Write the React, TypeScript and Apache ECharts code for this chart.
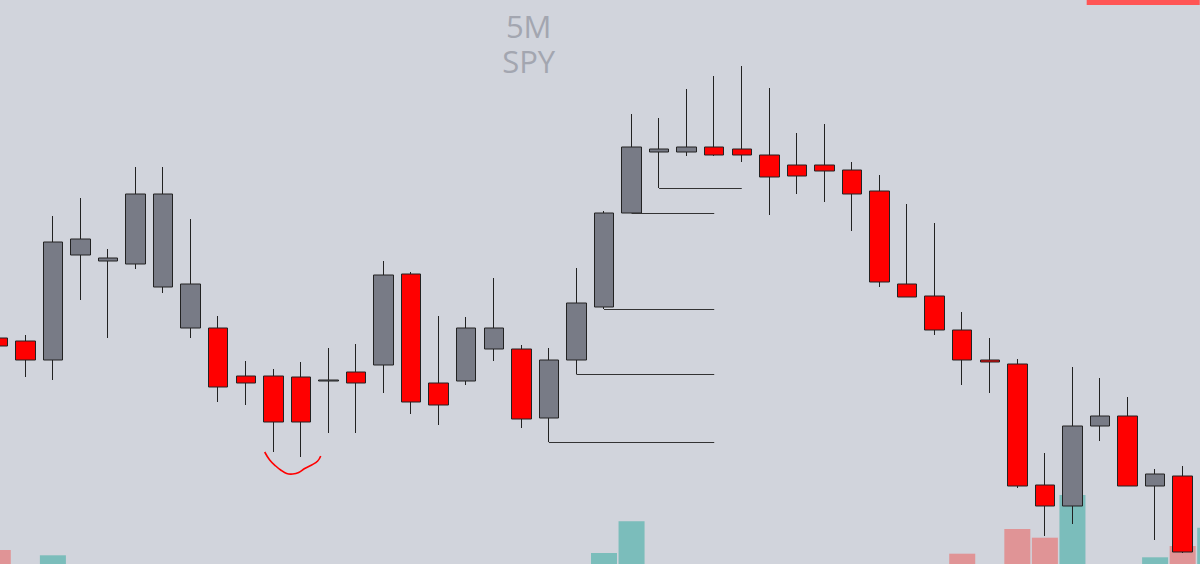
import React, { useEffect, useRef } from "react";
import * as echarts from "echarts";

const categories = [
  "12:25", "12:30", "12:35", "12:40", "12:45", "12:50", "12:55", "13:00", "13:05", "13:10",
  "13:15", "13:20", "13:25", "13:30", "13:35", "13:40", "13:45", "13:50", "13:55", "14:00",
  "14:05", "14:10", "14:15", "14:20", "14:25", "14:30", "14:35", "14:40", "14:45", "14:50",
  "14:55", "15:00", "15:05", "15:10", "15:15", "15:20", "15:25", "15:30", "15:35", "15:40",
  "15:45", "15:50", "15:55", "16:00", "16:05",
];

const opens = [
  408.62, 408.59, 408.4, 409.45, 409.39, 409.36, 409.13, 408.72, 408.72, 408.24,
  408.24, 408.23, 408.19, 408.28, 408.35, 409.26, 408.17, 408.19, 408.51, 408.51,
  407.82, 408.4, 408.93, 409.87, 410.48, 410.48, 410.53, 410.51, 410.45, 410.35,
  410.35, 410.3, 410.09, 409.16, 409.04, 408.7, 408.4, 408.36, 407.15, 406.94,
  407.74, 407.84, 407.14, 407.24, 406.48,
];
const closes = [
  408.54, 408.4, 409.58, 409.61, 409.42, 410.06, 410.06, 409.16, 408.13, 408.17,
  407.78, 407.78, 408.2, 408.17, 409.25, 407.98, 407.95, 408.72, 408.72, 407.81,
  408.4, 408.97, 409.87, 410.53, 410.51, 410.53, 410.45, 410.45, 410.23, 410.24,
  410.29, 410.06, 409.18, 409.03, 408.7, 408.4, 408.38, 407.14, 406.94, 407.74,
  407.84, 407.14, 407.26, 406.48, 407.3,
];
const lows = [
  408.48, 408.23, 408.2, 409.0, 408.62, 409.31, 409.07, 408.62, 407.98, 407.95,
  407.48, 407.43, 407.67, 407.67, 408.07, 407.86, 407.75, 408.15, 408.39, 407.72,
  407.58, 408.26, 408.91, 409.87, 410.12, 410.44, 410.44, 410.38, 409.85, 410.06,
  409.98, 409.69, 409.13, 409.03, 408.65, 408.15, 408.07, 407.12, 406.64, 406.76,
  407.59, 407.14, 406.6, 406.47, 406.44,
];
const highs = [
  408.67, 408.65, 409.84, 410.02, 409.51, 410.33, 410.33, 409.81, 408.84, 408.39,
  408.31, 408.38, 408.52, 408.56, 409.39, 409.28, 408.84, 408.83, 409.22, 408.55,
  408.52, 409.32, 409.89, 410.86, 410.82, 411.11, 411.24, 411.34, 411.12, 410.67,
  410.76, 410.38, 410.25, 409.96, 409.77, 408.88, 408.62, 408.41, 407.47, 408.33,
  408.22, 408.03, 407.31, 407.34, 407.4,
];
// volume in thousands of shares (only visible bars)
const volumes = [
  1400, 0, 870, 0, 0, 0, 0, 0, 0, 0,
  0, 0, 0, 0, 0, 0, 0, 0, 0, 0,
  0, 0, 1100, 4270, 0, 0, 0, 0, 0, 0,
  0, 0, 0, 0, 0, 1030, 0, 3500, 2630, 6900,
  0, 0, 670, 1800, 3630,
];

// horizontal level lines drawn at a candle's low: from category index -> to category index
const levelFrom = [20, 21, 22, 23, 24];
const levelTo = [26, 26, 26, 26, 27];

const UP = "#787b86";
const DOWN = "#ff0000";
const EDGE = "#222222";

// chart canvas is wider than the page so that the first/last candles are cut at the edges
const OFF = 15.7;
const CHART_W = 1240.2;

export default function App() {
  const ref = useRef<HTMLDivElement>(null);
  useEffect(() => {
    if (!ref.current) return;
    const chart = echarts.init(ref.current, undefined, { renderer: "svg" });
    const candleData = categories.map((_, i) => [opens[i], closes[i], lows[i], highs[i]]);
    const volData = volumes.map((v, i) => ({
      value: v,
      itemStyle: {
        color: closes[i] >= opens[i] ? "rgba(38,166,154,0.5)" : "rgba(239,83,80,0.5)",
      },
    }));
    const markData = levelFrom.map((f, k) => [
      { coord: [categories[f], lows[f]] },
      { coord: [categories[levelTo[k]], lows[f]] },
    ]);
    const arc = [
      [265, 452], [270, 460], [276, 466], [281, 470], [287, 473.5],
      [293, 474], [299, 472.5], [305, 468.5], [312, 465], [318, 461], [321, 456],
    ].map(([x, y]) => [x + OFF, y]);
    chart.setOption({
      animation: false,
      backgroundColor: "#d1d4dc",
      grid: [
        { left: 0, right: 0, top: 0, bottom: 0 },
        { left: 0, right: 0, bottom: 0, height: 100 },
      ],
      xAxis: [
        { type: "category", data: categories, gridIndex: 0, show: false, boundaryGap: true },
        { type: "category", data: categories, gridIndex: 1, show: false, boundaryGap: true },
      ],
      yAxis: [
        { type: "value", gridIndex: 0, min: 406.36, max: 412, show: false, splitLine: { show: false } },
        { type: "value", gridIndex: 1, min: 0, max: 10000, show: false, splitLine: { show: false } },
      ],
      series: [
        {
          type: "bar",
          xAxisIndex: 1,
          yAxisIndex: 1,
          data: volData,
          barWidth: 26,
          z: 1,
          silent: true,
        },
        {
          type: "candlestick",
          xAxisIndex: 0,
          yAxisIndex: 0,
          data: candleData,
          barWidth: 20,
          z: 3,
          itemStyle: {
            color: UP,
            color0: DOWN,
            borderColor: EDGE,
            borderColor0: EDGE,
            borderWidth: 1,
          },
          markLine: {
            silent: true,
            symbol: ["none", "none"],
            label: { show: false },
            lineStyle: { color: "#333333", width: 1, type: "solid" },
            data: markData,
          },
        },
      ],
      graphic: [
        {
          type: "text",
          style: {
            text: "5M\nSPY",
            x: 529 + OFF,
            y: 43,
            align: "center",
            verticalAlign: "middle",
            lineHeight: 35,
            fill: "#a3a6b0",
            font: "31px 'Open Sans', sans-serif",
          },
          z: 0,
        },
        {
          type: "rect",
          shape: { x: 1087 + OFF, y: 0, width: 113, height: 5 },
          style: { fill: "#ff5555" },
        },
        {
          type: "polyline",
          shape: { points: arc, smooth: 0.4 },
          style: { stroke: "#ff0000", lineWidth: 1.6, fill: "none" },
          z: 10,
        },
      ],
    });
    return () => chart.dispose();
  }, []);
  return (
    <div style={{ position: "fixed", left: 0, top: 0, width: 1200, height: 564, overflow: "hidden" }}>
      <div
        ref={ref}
        style={{ position: "absolute", left: -OFF, top: 0, width: CHART_W, height: 564 }}
      />
    </div>
  );
}
